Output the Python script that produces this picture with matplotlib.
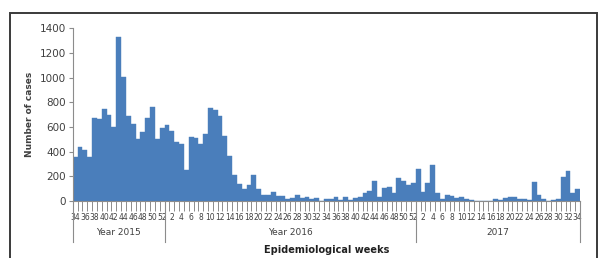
import matplotlib
matplotlib.use("Agg")
import matplotlib.pyplot as plt
from matplotlib.lines import Line2D
from matplotlib.patches import Rectangle

# Epidemiological weeks shown on the x axis, grouped by year
weeks_2015 = list(range(34, 53))
weeks_2016 = list(range(1, 53))
weeks_2017 = list(range(1, 35))

cases_2015 = [360, 436, 415, 355, 669, 664, 745, 697, 599, 1331, 1006, 686,
              626, 502, 561, 675, 762, 502, 588]
cases_2016 = [615, 566, 474, 463, 252, 518, 507, 463, 539, 756, 734, 686,
              528, 366, 209, 138, 100, 133, 209, 100, 51, 51, 73, 41, 41, 19,
              24, 46, 24, 35, 19, 24, 2, 19, 19, 30, 8, 35, 8, 24, 30, 62,
              84, 165, 35, 106, 117, 68, 187, 165, 127, 149]
cases_2017 = [263, 73, 149, 295, 68, 13, 51, 41, 24, 35, 13, 8, 0, 2, 2, 3,
              13, 8, 24, 30, 30, 19, 13, 8, 155, 46, 13, 3, 8, 13, 192, 246,
              62, 95]

year_labels = ["Year 2015", "Year 2016", "2017"]

BAR_COLOR = "#4A7EBB"
AXIS_COLOR = "#8C8C8C"
TEXT_COLOR = "#404040"

weeks = weeks_2015 + weeks_2016 + weeks_2017
cases = cases_2015 + cases_2016 + cases_2017
n = len(weeks)
x = list(range(n))

fig = plt.figure(figsize=(6.03, 2.58), dpi=100)
ax = fig.add_axes([0.1206, 0.221, 0.8413, 0.670])

ax.bar(x, cases, width=1.0, color=BAR_COLOR, edgecolor=BAR_COLOR, linewidth=0.3)

ax.set_xlim(-0.5, n - 0.5)
ax.set_ylim(0, 1400)
ax.set_yticks(range(0, 1401, 200))
ax.tick_params(axis="y", labelsize=7.5, colors=TEXT_COLOR, length=3,
               color=AXIS_COLOR, width=0.8, pad=2)

# week labels on every other category, tick marks between categories
ax.set_xticks(x[::2])
ax.set_xticklabels([str(w) for w in weeks[::2]])
ax.set_xticks([i - 0.5 for i in range(n + 1)], minor=True)
ax.tick_params(axis="x", which="major", length=0, labelsize=5.5,
               colors=TEXT_COLOR, pad=9)
ax.tick_params(axis="x", which="minor", length=7.5, color=AXIS_COLOR, width=0.7)

for side in ("top", "right"):
    ax.spines[side].set_visible(False)
for side in ("left", "bottom"):
    ax.spines[side].set_color(AXIS_COLOR)
    ax.spines[side].set_linewidth(0.8)

ax.set_ylabel("Number of cases", fontsize=6.5, fontweight="bold",
              color=TEXT_COLOR, labelpad=4)

# year group separators and labels
trans = ax.get_xaxis_transform()
bounds = [0, len(weeks_2015), len(weeks_2015) + len(weeks_2016), n]
for b in bounds:
    ax.add_line(Line2D([b - 0.5, b - 0.5], [0, -0.235], transform=trans,
                       color=AXIS_COLOR, linewidth=0.8, clip_on=False))
for lab, lo, hi in zip(year_labels, bounds[:-1], bounds[1:]):
    ax.text((lo + hi - 1) / 2, -0.185, lab, transform=trans, ha="center",
            va="center", fontsize=6.5, color=TEXT_COLOR)

fig.text(327 / 603, 1 - 250 / 258, "Epidemiological weeks", ha="center",
         va="center", fontsize=7, fontweight="bold", color="#202020")

# outer frame of the original figure
fig.patches.append(Rectangle((10 / 603, -0.1), 586.5 / 603, 1.1 - 13 / 258,
                             transform=fig.transFigure, fill=False,
                             edgecolor="#3A3A3A", linewidth=1.4))

fig.savefig("out.png", dpi=100)
